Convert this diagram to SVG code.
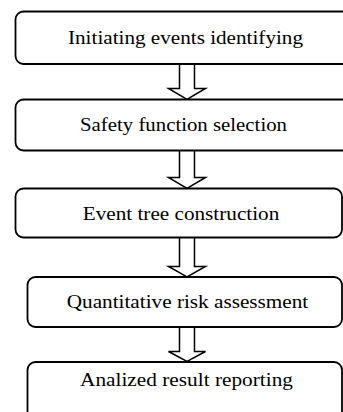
<svg xmlns="http://www.w3.org/2000/svg" width="343" height="412" viewBox="0 0 343 412">
<defs>
<style>
.box{fill:#fff;stroke:#000;stroke-width:1.8}
.lbl{font-family:"Liberation Serif","Times New Roman",serif;font-size:18.5px;fill:#000;text-anchor:middle}
.arr{fill:#fff;stroke:#000;stroke-width:1.5;stroke-linejoin:miter}
</style>
</defs>
<rect width="343" height="412" fill="#fff"/>
<g id="connectors">
<path class="arr" d="M179.5,64 V88.5 H168.5 L187,99.5 L205.5,88.5 H194.5 V64"/>
<path class="arr" d="M179.5,150.5 V177.5 H168.5 L187,188.5 L205.5,177.5 H194.5 V150.5"/>
<path class="arr" d="M179.5,237.5 V266.5 H168.5 L187,277 L205.5,266.5 H194.5 V237.5"/>
<path class="arr" d="M179.5,327 V351.5 H168.5 L187,361.5 L205.5,351.5 H194.5 V327"/>
</g>
<g id="n1"><rect class="box" x="15.5" y="11.5" width="340" height="52.5" rx="8"/><text class="lbl" x="185.5" y="43.5" textLength="235" lengthAdjust="spacingAndGlyphs">Initiating events identifying</text></g>
<g id="n2"><rect class="box" x="15.5" y="99.5" width="340" height="51" rx="8"/><text class="lbl" x="183.5" y="131" textLength="207" lengthAdjust="spacingAndGlyphs">Safety function selection</text></g>
<g id="n3"><rect class="box" x="15.5" y="188.5" width="326.5" height="49" rx="8"/><text class="lbl" x="181" y="219.5" textLength="196.5" lengthAdjust="spacingAndGlyphs">Event tree construction</text></g>
<g id="n4"><rect class="box" x="27.5" y="277" width="314.5" height="50" rx="8"/><text class="lbl" x="187.5" y="308" textLength="241.5" lengthAdjust="spacingAndGlyphs">Quantitative risk assessment</text></g>
<g id="n5"><rect class="box" x="27.5" y="362" width="314.5" height="70" rx="8"/><text class="lbl" x="186.5" y="386" textLength="213" lengthAdjust="spacingAndGlyphs">Analized result reporting</text></g>
</svg>
